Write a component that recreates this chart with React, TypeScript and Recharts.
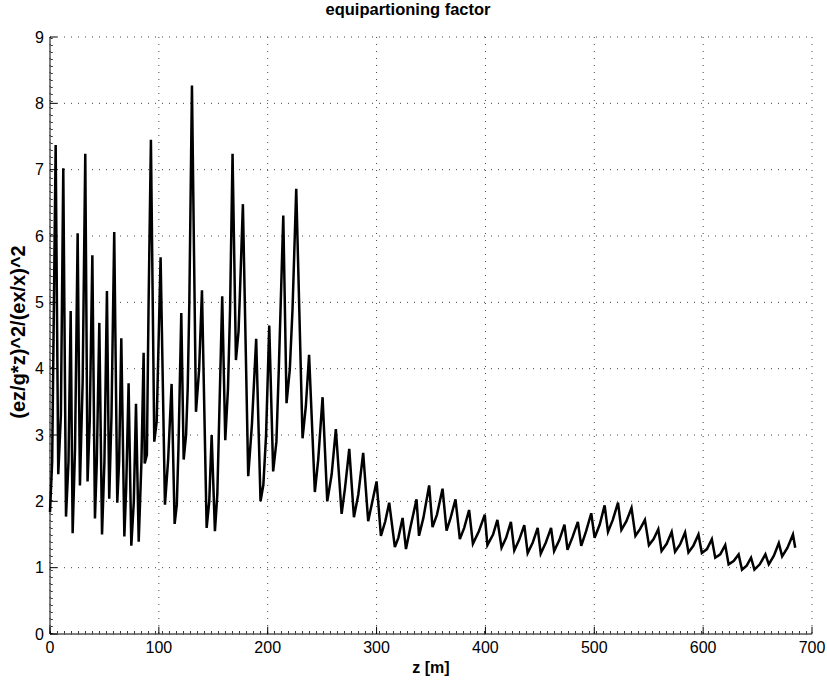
import { LineChart, Line, XAxis, YAxis, CartesianGrid, ReferenceLine } from 'recharts';

const zValues = [
  0, 2, 5.2, 7.6, 10, 12.2, 14.7, 17, 19, 20.8, 23, 25.4, 27.5, 30, 32.4, 34.5, 36.5, 38.9, 41.3, 43,
  45.3, 47.8, 50, 52.3, 54.4, 56.5, 59, 61.8, 63.5, 65.5, 68.3, 70, 72.2, 74.7, 77, 79, 81.5, 84, 86, 87,
  89, 90.5, 92.7, 95.8, 98, 101.6, 105.6, 108.5, 111.7, 114.5, 116.5, 118, 120.6, 122.8, 125, 126.5, 128, 130.4, 134.1, 137,
  139.6, 143.9, 146.3, 148.5, 151.5, 153.7, 158.2, 161, 163.5, 165.4, 167.7, 170.8, 173.2, 174.5, 177.2, 182.1, 185.5, 189.4, 193.4, 196,
  198.5, 201.4, 205, 208, 210.2, 214.3, 217.3, 220.3, 222.8, 226.2, 232, 235, 238, 243.3, 246.4, 250.4, 254.7, 258.7, 262.6, 267.9,
  271, 274.9, 279.2, 283.2, 287.7, 292.3, 295.5, 300, 304, 308, 311.6, 316.8, 320, 323.9, 327, 331, 336.7, 339, 343, 348.3,
  351.4, 355.5, 360.6, 364.3, 368, 372.5, 376.5, 380.5, 385, 388.5, 394, 399.4, 401.8, 407, 411, 414.8, 419, 423.4, 426.5, 431,
  435.7, 438.8, 443.5, 448, 450.8, 455.5, 460.3, 463.1, 468, 472.6, 475.4, 480, 484.9, 488, 492.5, 497.2, 500.3, 505, 509.5, 512.6,
  517, 521.8, 524.9, 529.5, 534.2, 537.8, 542, 546.5, 550.2, 554.5, 558.8, 561.8, 566.5, 571.1, 574.2, 578.8, 583.4, 586.5, 591, 595.7,
  598.8, 603.5, 608, 611.1, 615.7, 620.3, 623.4, 628, 632.6, 635.7, 640, 644, 647.1, 652, 657.2, 660.3, 665, 669.5, 672.6, 677.5,
  682.5, 684.6,
];

const factorValues = [
  1.84, 2.6, 7.37, 2.41, 3.3, 7.02, 1.77, 2.6, 4.87, 1.52, 2.8, 6.04, 2.24, 3.8, 7.24, 2.3, 3.2, 5.71, 1.74, 2.6,
  4.69, 1.5, 2.6, 5.17, 2.04, 3.3, 6.06, 1.98, 2.6, 4.46, 1.47, 2.2, 3.78, 1.33, 2.0, 3.47, 1.39, 2.6, 4.24, 2.57,
  2.7, 4.9, 7.45, 2.9, 3.2, 5.68, 1.95, 2.62, 3.77, 1.66, 1.95, 2.8, 4.84, 2.63, 3.0, 3.7, 5.0, 8.27, 3.35, 3.99,
  5.18, 1.6, 2.0, 3.0, 1.55, 2.1, 5.09, 2.92, 3.7, 4.88, 7.24, 4.13, 4.56, 5.15, 6.48, 2.38, 3.16, 4.45, 2.0, 2.25,
  3.0, 4.65, 2.45, 2.9, 4.0, 6.31, 3.48, 3.99, 4.9, 6.71, 2.95, 3.43, 4.21, 2.14, 2.63, 3.57, 2.0, 2.4, 3.09, 1.81,
  2.2, 2.79, 1.76, 2.1, 2.73, 1.7, 1.95, 2.3, 1.48, 1.7, 1.98, 1.31, 1.45, 1.75, 1.28, 1.6, 2.03, 1.48, 1.75, 2.24,
  1.61, 1.8, 2.19, 1.56, 1.75, 2.03, 1.43, 1.6, 1.87, 1.36, 1.55, 1.8, 1.34, 1.5, 1.72, 1.3, 1.45, 1.69, 1.26, 1.42,
  1.64, 1.22, 1.38, 1.6, 1.21, 1.38, 1.6, 1.25, 1.42, 1.65, 1.27, 1.46, 1.69, 1.33, 1.55, 1.82, 1.45, 1.65, 1.94, 1.54,
  1.72, 1.98, 1.57, 1.7, 1.9, 1.48, 1.58, 1.72, 1.34, 1.43, 1.58, 1.25, 1.36, 1.54, 1.24, 1.35, 1.53, 1.23, 1.33, 1.5,
  1.22, 1.28, 1.43, 1.15, 1.2, 1.34, 1.05, 1.1, 1.2, 0.97, 1.03, 1.15, 0.97, 1.05, 1.2, 1.05, 1.18, 1.37, 1.17, 1.3,
  1.5, 1.3,
];

const xTicks = [0, 100, 200, 300, 400, 500, 600, 700];
const yTicks = [0, 1, 2, 3, 4, 5, 6, 7, 8, 9];

const chartData = zValues.map((z, i) => ({ z, factor: factorValues[i] }));

const font = '"Liberation Sans", Arial, Helvetica, sans-serif';

const App = () => {
  return (
    <div style={{ position: 'absolute', left: 0, top: 0, width: 827, height: 690, background: '#fff', fontFamily: font }}>
      <div style={{ position: 'absolute', left: 0, width: 816, top: 0, textAlign: 'center', fontWeight: 'bold', fontSize: 16.5 }}>
        equipartioning factor
      </div>
      <div style={{ position: 'absolute', left: 0, width: 862, top: 659, textAlign: 'center', fontWeight: 'bold', fontSize: 16 }}>
        z [m]
      </div>
      <div style={{ position: 'absolute', left: 18, top: 332, width: 0, height: 0 }}>
        <div style={{ position: 'absolute', transform: 'translate(-50%, -50%) rotate(-90deg)', whiteSpace: 'nowrap', fontWeight: 'bold', fontSize: 20 }}>
          (ez/g*z)^2/(ex/x)^2
        </div>
      </div>
      <LineChart width={827} height={690} data={chartData} margin={{ top: 37, right: 15, bottom: 0, left: 0 }}>
        <CartesianGrid stroke="#444" strokeDasharray="1 6" />
        <XAxis
          dataKey="z" type="number" domain={[0, 700]} ticks={xTicks} height={56}
          stroke="#000" tickSize={-7} tickMargin={15} tickLine={false}
          tick={{ fill: '#000', fontSize: 16, fontFamily: font }}
        />
        <YAxis
          type="number" domain={[0, 9]} ticks={yTicks} width={50}
          stroke="#000" tickSize={-7} tickMargin={13} tickLine={false}
          tick={{ fill: '#000', fontSize: 16, fontFamily: font }}
        />
        <ReferenceLine x={1.6} stroke="#333" strokeWidth={2} strokeDasharray="1 6" />
        <ReferenceLine y={0.03} stroke="#333" strokeWidth={2} strokeDasharray="1 6" />
        {xTicks.map((t) => (
          <ReferenceLine key={`xt${t}`} segment={[{ x: t, y: 0 }, { x: t, y: 0.11 }]} stroke="#000" />
        ))}
        {yTicks.map((t) => (
          <ReferenceLine key={`yt${t}`} segment={[{ x: 0, y: t }, { x: 6.5, y: t }]} stroke="#000" />
        ))}
        <Line type="linear" dataKey="factor" stroke="#000" strokeWidth={2.5} dot={false} isAnimationActive={false} />
      </LineChart>
    </div>
  );
};

export default App;
